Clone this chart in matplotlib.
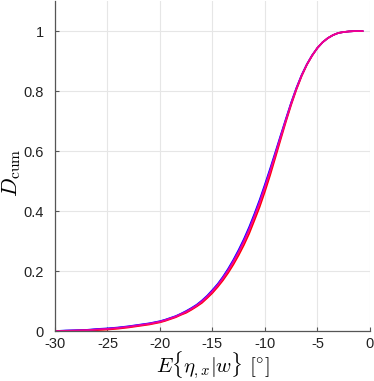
import numpy as np
import matplotlib.pyplot as plt

plt.rcParams['mathtext.fontset'] = 'cm'
plt.rcParams['font.family'] = ['Liberation Sans', 'DejaVu Sans']

# mean misalignment angle grid (deg)
x_vals = [-30, -29, -28, -27, -26, -25, -24, -23, -22, -21, -20,
          -19.5, -19, -18.5, -18, -17.5, -17, -16.5, -16, -15.5, -15,
          -14.5, -14, -13.5, -13, -12.5, -12, -11.5, -11, -10.5, -10,
          -9.5, -9, -8.5, -8, -7.5, -7, -6.5, -6, -5.5, -5,
          -4.5, -4, -3.5, -3, -2.5, -2, -1.5, -1, -0.7]

# cumulative damage, one list per run (blue -> red)
d_blue = [0.000, 0.002, 0.003, 0.004, 0.007, 0.009, 0.012, 0.016, 0.021, 0.026, 0.033,
          0.038, 0.044, 0.050, 0.058, 0.067, 0.077, 0.088, 0.102, 0.118, 0.137,
          0.157, 0.181, 0.208, 0.238, 0.271, 0.307, 0.347, 0.391, 0.438, 0.489,
          0.542, 0.597, 0.653, 0.708, 0.762, 0.811, 0.854, 0.890, 0.920, 0.944,
          0.963, 0.977, 0.987, 0.994, 0.997, 0.999, 1.000, 1.000, 1.000]
d_violet = [0.000, 0.001, 0.002, 0.003, 0.006, 0.008, 0.011, 0.015, 0.020, 0.025, 0.032,
            0.037, 0.043, 0.049, 0.057, 0.065, 0.075, 0.086, 0.100, 0.116, 0.134,
            0.154, 0.178, 0.204, 0.234, 0.266, 0.302, 0.341, 0.385, 0.432, 0.483,
            0.536, 0.592, 0.649, 0.705, 0.760, 0.809, 0.853, 0.889, 0.919, 0.944,
            0.963, 0.977, 0.987, 0.994, 0.997, 0.999, 1.000, 1.000, 1.000]
d_pink = [0.000, 0.001, 0.002, 0.003, 0.005, 0.007, 0.010, 0.014, 0.019, 0.024, 0.031,
          0.036, 0.042, 0.048, 0.056, 0.064, 0.074, 0.085, 0.098, 0.114, 0.132,
          0.152, 0.175, 0.201, 0.230, 0.262, 0.297, 0.336, 0.380, 0.426, 0.477,
          0.531, 0.588, 0.646, 0.703, 0.758, 0.808, 0.852, 0.889, 0.919, 0.944,
          0.963, 0.977, 0.987, 0.994, 0.997, 0.999, 1.000, 1.000, 1.000]
d_red = [0.000, 0.000, 0.001, 0.002, 0.003, 0.005, 0.008, 0.012, 0.017, 0.022, 0.029,
         0.034, 0.040, 0.046, 0.054, 0.061, 0.071, 0.082, 0.094, 0.110, 0.127,
         0.147, 0.169, 0.194, 0.222, 0.253, 0.287, 0.325, 0.369, 0.414, 0.465,
         0.520, 0.579, 0.639, 0.698, 0.754, 0.805, 0.850, 0.888, 0.918, 0.944,
         0.963, 0.977, 0.987, 0.994, 0.997, 0.999, 1.000, 1.000, 1.000]

x_ticks = [-30, -25, -20, -15, -10, -5, 0]
y_ticks = [0, 0.2, 0.4, 0.6, 0.8, 1]

fig = plt.figure(figsize=(3.74, 3.81), dpi=100)
ax = fig.add_axes([0.147, 0.131, 0.842, 0.866])

ax.plot(x_vals, d_blue, color=(0.0, 0.0, 1.0), lw=1.2)
ax.plot(x_vals, d_red, color=(1.0, 0.0, 0.0), lw=1.2)
ax.plot(x_vals, d_violet, color=(0.6, 0.0, 1.0), lw=1.2)
ax.plot(x_vals, d_pink, color=(1.0, 0.0, 0.5), lw=1.2, alpha=0.9)

ax.set_xlim(-30, 0)
ax.set_ylim(0, 1.1)
ax.set_xticks(x_ticks)
ax.set_xticklabels([str(t) for t in x_ticks])
ax.set_yticks(y_ticks)
ax.set_yticklabels(['0', '0.2', '0.4', '0.6', '0.8', '1'])
ax.grid(True, color='#e6e6e6', lw=0.8)
ax.set_axisbelow(True)

for s in ['top', 'right']:
    ax.spines[s].set_visible(False)
for s in ['left', 'bottom']:
    ax.spines[s].set_color('#555555')
    ax.spines[s].set_linewidth(0.9)

ax.tick_params(direction='in', length=3, width=0.8, colors='#555555',
               labelcolor='#222222', labelsize=10.5)
ax.tick_params(axis='y', pad=8)
ax.tick_params(axis='x', pad=4)

ax.set_xlabel(r'$E\{\eta_{,x}|w\}\ [^{\circ}]$', fontsize=15, labelpad=-1)
ax.set_ylabel(r'$D_{\rm cum}$', fontsize=16)
ax.yaxis.set_label_coords(-0.1, 0.48)

fig.savefig('out.png', dpi=100)
